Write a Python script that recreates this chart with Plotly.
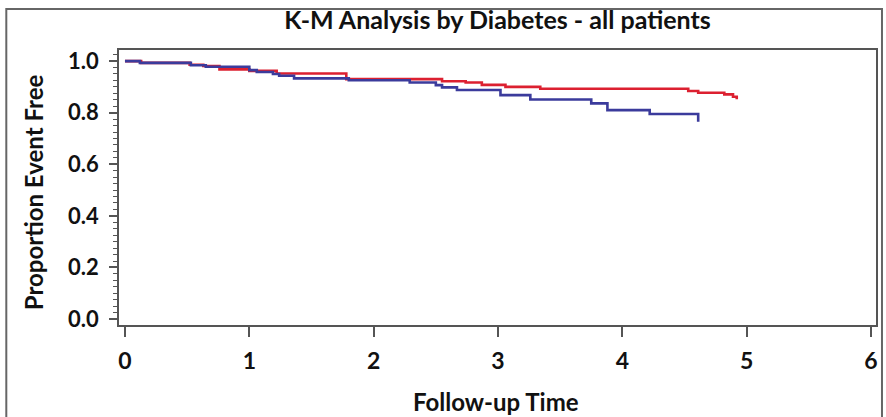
import plotly.graph_objects as go

# Kaplan-Meier step data
red_time = [0, 0.13, 0.52, 0.63, 0.76, 1.00, 1.22, 1.78, 2.55, 2.74, 2.87, 3.06, 3.34, 4.53, 4.61, 4.82, 4.89, 4.92]
red_surv = [1.0, 0.993, 0.986, 0.981, 0.968, 0.962, 0.952, 0.930, 0.922, 0.917, 0.908, 0.900, 0.893, 0.884, 0.877, 0.871, 0.862, 0.852]

blue_time = [0, 0.12, 0.53, 0.65, 1.00, 1.06, 1.19, 1.24, 1.36, 1.80, 2.29, 2.50, 2.55, 2.67, 3.02, 3.26, 3.75, 3.88, 4.22, 4.61]
blue_surv = [1.0, 0.993, 0.984, 0.978, 0.965, 0.958, 0.950, 0.943, 0.933, 0.926, 0.917, 0.907, 0.898, 0.888, 0.868, 0.851, 0.836, 0.810, 0.795, 0.765]

x_ticks = [0, 1, 2, 3, 4, 5, 6]
y_ticks = [0.0, 0.2, 0.4, 0.6, 0.8, 1.0]
y_tick_labels = ["0.0", "0.2", "0.4", "0.6", "0.8", "1.0"]

TITLE = "K-M Analysis by Diabetes - all patients"
X_TITLE = "Follow-up Time"
Y_TITLE = "Proportion Event Free"

FONT = "Lato"
W, H = 886, 417
L, R, T, B = 119, 8, 50, 92
pw, ph = W - L - R, H - T - B

fig = go.Figure()
fig.add_trace(go.Scatter(x=red_time, y=red_surv, mode="lines", line=dict(shape="hv", color="#dc2030", width=2.6),
                         showlegend=False, hoverinfo="skip"))
fig.add_trace(go.Scatter(x=blue_time, y=blue_surv, mode="lines", line=dict(shape="hv", color="#3b3b9c", width=2.6),
                         showlegend=False, hoverinfo="skip"))

axcol = "#555555"
fig.update_xaxes(range=[-0.048, 6.04], tickvals=x_ticks, ticks="outside", ticklen=10, tickwidth=1.5, tickcolor=axcol,
                 showline=True, linecolor=axcol, linewidth=1.5, mirror=True, showgrid=False, zeroline=False,
                 tickfont=dict(family=FONT, size=23, color="#111111", weight="bold"), ticklabelstandoff=5)
fig.update_yaxes(range=[-0.023, 1.043], tickvals=y_ticks, ticktext=y_tick_labels, ticks="outside", ticklen=8,
                 tickwidth=1.5, tickcolor=axcol,
                 minor=dict(dtick=0.025, tick0=0, ticks="outside", ticklen=4, tickcolor=axcol, tickwidth=1),
                 showline=True, linecolor=axcol, linewidth=1.5, mirror=True, showgrid=False, zeroline=False,
                 tickfont=dict(family=FONT, size=22, color="#111111", weight="bold"), ticklabelstandoff=6)

# outer frame
fig.add_shape(type="rect", xref="paper", yref="paper",
              x0=(6 - L) / pw, x1=(884 - L) / pw, y0=-(430 - (H - B)) / ph, y1=(H - B - 9) / ph,
              line=dict(color="#666666", width=2), fillcolor="rgba(0,0,0,0)", layer="below")

fig.add_annotation(text=X_TITLE, xref="paper", yref="paper", x=(497 - L) / pw, y=-(401 - (H - B)) / ph,
                   showarrow=False, font=dict(family=FONT, size=24, color="#111111", weight="bold"),
                   xanchor="center", yanchor="middle")
fig.add_annotation(text=Y_TITLE, xref="paper", yref="paper", x=-(L - 33) / pw, y=((H - B) - 192) / ph,
                   showarrow=False, textangle=-90, font=dict(family=FONT, size=24, color="#111111", weight="bold"),
                   xanchor="center", yanchor="middle")

fig.update_layout(
    width=W, height=H, margin=dict(l=L, r=R, t=T, b=B),
    paper_bgcolor="white", plot_bgcolor="white",
    title=dict(text=TITLE, x=0.5, xref="paper", y=1 - 20 / H, yref="container", xanchor="center", yanchor="middle",
               font=dict(family=FONT, size=25, color="#111111", weight="bold")),
)
fig.write_html("out.html", config={"displayModeBar": False},
               post_script="document.body.style.margin='0';document.body.style.overflow='hidden';")
